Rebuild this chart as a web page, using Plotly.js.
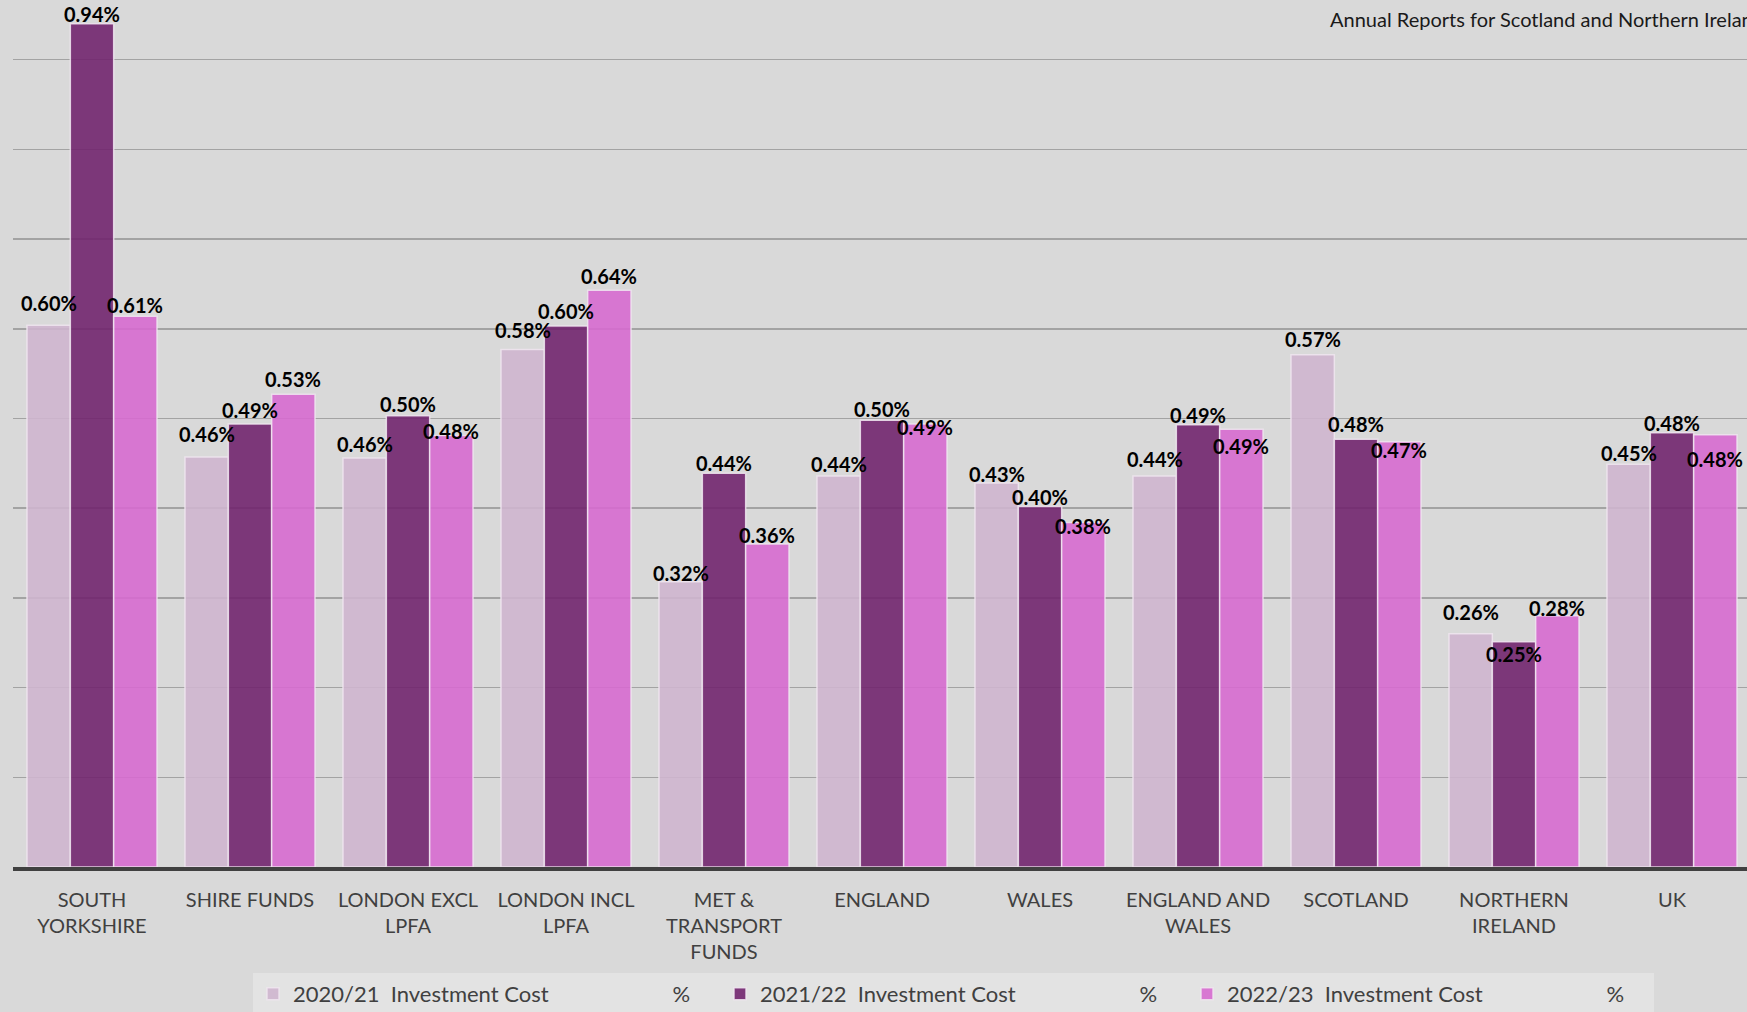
<!DOCTYPE html>
<html><head><meta charset="utf-8">
<script src="https://cdn.plot.ly/plotly-3.0.1.min.js"></script>
<style>html,body{margin:0;padding:0;background:#D9D9D9;} #chart{width:1747px;height:1012px;}</style>
</head><body><div id="chart"></div>
<script>
// ---- data ----
const categories = ["SOUTH YORKSHIRE", "SHIRE FUNDS", "LONDON EXCL LPFA", "LONDON INCL LPFA", "MET & TRANSPORT FUNDS", "ENGLAND", "WALES", "ENGLAND AND WALES", "SCOTLAND", "NORTHERN IRELAND", "UK"];
const tickLabels = ["SOUTH<br>YORKSHIRE", "SHIRE FUNDS", "LONDON EXCL<br>LPFA", "LONDON INCL<br>LPFA", "MET &<br>TRANSPORT<br>FUNDS", "ENGLAND", "WALES", "ENGLAND AND<br>WALES", "SCOTLAND", "NORTHERN<br>IRELAND", "UK"];
const seriesYears = ["2020/21", "2021/22", "2022/23"];
const cost2020 = [0.604, 0.457, 0.456, 0.577, 0.318, 0.436, 0.428, 0.436, 0.571, 0.260, 0.449];
const cost2021 = [0.940, 0.494, 0.503, 0.603, 0.439, 0.498, 0.402, 0.493, 0.477, 0.251, 0.484];
const cost2022 = [0.614, 0.527, 0.481, 0.643, 0.360, 0.494, 0.384, 0.488, 0.474, 0.280, 0.482];
const sourceNote = "Annual Reports for Scotland and Northern Ireland";

// ---- style ----
const colors = ["rgba(206,181,206,0.9)", "rgba(113,37,110,0.9)", "rgba(214,106,207,0.9)"];
const labelGap = [
  [13, 14, 5, 10, 0, 3, 0, 8, 7, 13, 2],
  [1, 5, 3, 6, 1, 2, 0, 1, 6, -21, 1],
  [2, 6, -4, 5, 0, -12, -12, -26, -17, -1, -33]
];
const FONT = "Lato, 'Open Sans', sans-serif";
const BARGAP = 0.177;
const baseOffset = 5;
const nb = n => "\u00A0".repeat(n);

const allSeries = [cost2020, cost2021, cost2022];
const traces = allSeries.map((vals, s) => ({
  type: "bar",
  name: seriesYears[s] + nb(2) + "Investment Cost" + nb(22) + "%",
  x: categories,
  y: vals,
  marker: {color: colors[s], line: {color: "rgba(240,230,240,0.85)", width: 1.5}},
  hoverinfo: "x+y"
}));

const barW = (1 - BARGAP) / 3;
const annotations = [];
allSeries.forEach((vals, s) => {
  vals.forEach((v, i) => {
    annotations.push({
      xref: "x", yref: "y",
      x: i + (s - 1) * barW, y: v,
      text: v.toFixed(2) + "%",
      showarrow: false,
      xanchor: "center", yanchor: "bottom",
      yshift: labelGap[s][i] - baseOffset,
      font: {family: FONT, size: 20, color: "#000000", weight: 700}
    });
  });
});
annotations.push({
  xref: "paper", yref: "paper", x: (1328 - 13) / 1734, y: 1 - 19 / 867,
  xanchor: "left", yanchor: "middle", showarrow: false,
  text: sourceNote,
  font: {family: FONT, size: 20, color: "#1a1a1a"}
});

const layout = {
  width: 1747, height: 1012,
  margin: {l: 13, r: 0, t: 0, b: 145, pad: 0, autoexpand: false},
  paper_bgcolor: "#D9D9D9", plot_bgcolor: "#D9D9D9",
  barmode: "group", bargap: BARGAP, bargroupgap: 0,
  showlegend: true,
  legend: {
    orientation: "h", x: (253 - 13) / 1734, xanchor: "left",
    y: -(973 - 867) / 867, yanchor: "top",
    bgcolor: "#E3E3E3", entrywidth: 422, entrywidthmode: "pixels",
    font: {family: FONT, size: 22, color: "#404040"},
    traceorder: "normal"
  },
  xaxis: {
    type: "category",
    range: [-0.5, 1734 / 158 - 0.5],
    tickmode: "array", tickvals: categories, ticktext: tickLabels,
    showline: true, linecolor: "#404040", linewidth: 4,
    ticks: "", ticklabelstandoff: 12,
    tickfont: {family: FONT, size: 20, color: "#404040"},
    showgrid: false, zeroline: false, fixedrange: true, automargin: false
  },
  yaxis: {
    range: [0, 867 / 897],
    dtick: 0.1, tick0: 0,
    showgrid: true, gridcolor: "#A3A3A3", gridwidth: 1.5,
    showticklabels: false, zeroline: false, showline: false, ticks: "",
    fixedrange: true, automargin: false
  },
  annotations: annotations,
  font: {family: FONT}
};

Plotly.newPlot("chart", traces, layout, {displayModeBar: false, staticPlot: true});
</script>
</body></html>
